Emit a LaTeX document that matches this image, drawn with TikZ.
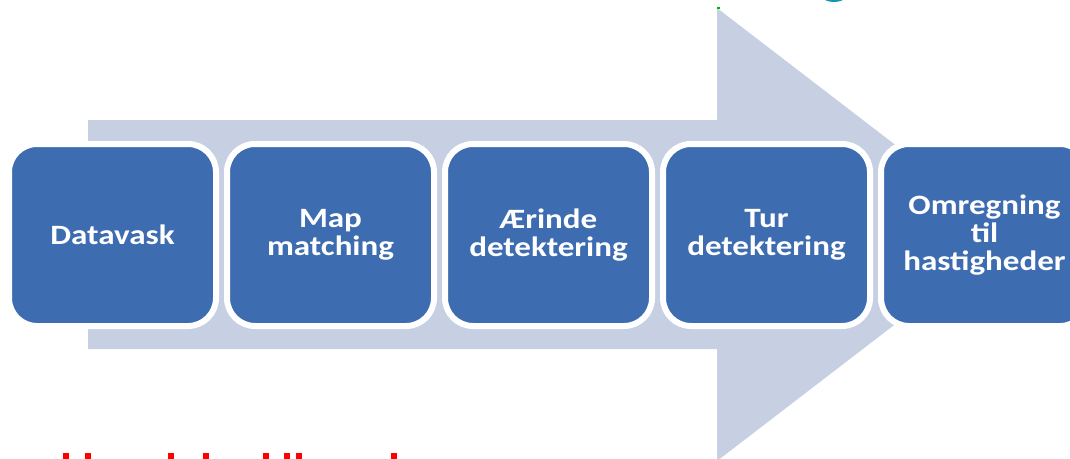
\documentclass[tikz,border=0pt]{standalone}
\usepackage{fontspec}
\newfontfamily\stagefont{Carlito}[FakeStretch=1.18]
\usepackage{tikz}
\usetikzlibrary{shapes,arrows,calc}

\definecolor{boxblue}{RGB}{61,109,176}
\definecolor{arrowgrey}{RGB}{199,208,227}
\definecolor{tealmark}{RGB}{18,150,178}

\begin{document}
\begin{tikzpicture}[x=1pt, y=-1pt,
  stage/.style={draw=white, line width=6pt, fill=boxblue, rounded corners=28pt,
    minimum width=207pt, minimum height=182pt, align=center, text=white,
    font=\stagefont\bfseries\fontsize{28}{28}\selectfont}]
  \useasboundingbox (0,0) rectangle (1070,458);
  \clip (0,0) rectangle (1070,458);
  % Big arrow
  \fill[arrowgrey] (88,120) -- (717,120) -- (717,8) -- (1012,234.5) -- (717,461) -- (717,349) -- (88,349) -- cycle;
  % Nodes
  \node[stage](wash) at (112.5,235) {Datavask};
  \node[stage](map) at (330.5,235) {Map\\matching};
  \node[stage](errand) at (548.5,235) {Ærinde\\detektering};
  \node[stage](trip) at (766.5,235) {Tur\\detektering};
  \node[stage](speed) at (984.5,235) {Omregning\\til\\hastigheder};
  % Cut-off marks at the edges
  \fill[tealmark] (834,-3) ellipse (11pt and 5pt);
  \fill[green!70!black] (717,7) rectangle (720,9);
  \foreach \x in {63,85,168,203,263,284,296,391}
    \fill[red] (\x,453) rectangle ++(6,6);
\end{tikzpicture}
\end{document}
